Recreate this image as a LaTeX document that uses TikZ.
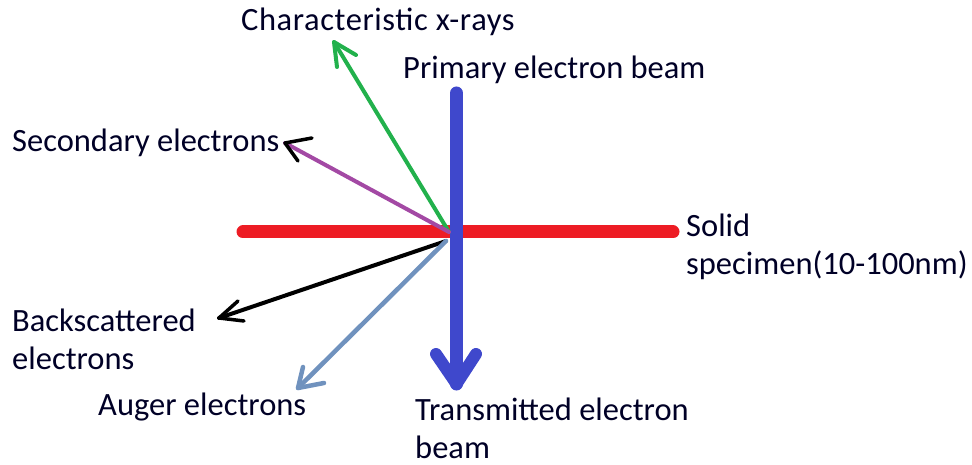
\documentclass[tikz,border=0pt]{standalone}
\usepackage{fontspec}
\setmainfont{Carlito}
\usetikzlibrary{arrows.meta}
\definecolor{specred}{RGB}{237,28,36}
\definecolor{beamblue}{RGB}{63,72,204}
\definecolor{xgreen}{RGB}{34,177,76}
\definecolor{secpurple}{RGB}{163,73,164}
\definecolor{augerblue}{RGB}{112,146,190}
\tikzset{
  lbl/.style={inner sep=0pt, anchor=west, align=left, font=\fontsize{32.5}{38}\selectfont, text=black!85!blue},
  ray/.style={line width=4pt, line cap=round, line join=round},
  head/.style={line cap=round, line join=round}
}
\begin{document}
\begin{tikzpicture}[x=1pt,y=-1pt]
\useasboundingbox (0,0) rectangle (972,465);
% key points
\coordinate (O) at (449,232);
\coordinate (Ob) at (446,241);
% specimen
\coordinate (sl) at (243,232);
\coordinate (sr) at (673,232);
\draw[specred, line width=13pt, line cap=round] (sl) -- (sr);
% primary / transmitted beam
\coordinate (bt) at (456.5,93);
\coordinate (bb) at (456.5,384);
\coordinate (bw1) at (436,354);
\coordinate (bw2) at (476,354);
\draw[beamblue, line width=13pt, line cap=round, line join=round] (bt) -- (bb);
\draw[beamblue, line width=12pt, head] (bw1) -- (bb) -- (bw2);
% characteristic x-rays
\coordinate (gt) at (334,42);
\coordinate (gw1) at (337,67);
\coordinate (gw2) at (356,55);
\draw[xgreen, ray] (O) -- (gt);
\draw[xgreen, line width=4pt, head] (gw1) -- (gt) -- (gw2);
% secondary electrons
\coordinate (pt) at (285,143);
\coordinate (pw1) at (312,138);
\coordinate (pw2) at (298,161);
\draw[secpurple, ray] (O) -- (pt);
\draw[black, line width=3.5pt, head] (pw1) -- (pt) -- (pw2);
% backscattered electrons
\coordinate (kt) at (219,318);
\coordinate (kw1) at (238,301);
\coordinate (kw2) at (244,321);
\draw[black, ray] (Ob) -- (kt);
\draw[black, line width=3.5pt, head] (kw1) -- (kt) -- (kw2);
% Auger electrons
\coordinate (at) at (298,388);
\coordinate (aw1) at (303,367);
\coordinate (aw2) at (324,383);
\draw[augerblue, line width=4.5pt, line cap=round] (Ob) -- (at);
\draw[augerblue, line width=4.5pt, head] (aw1) -- (at) -- (aw2);
% labels
\node[lbl] (tx) at (241,22) {\addfontfeature{LetterSpace=1.8}Characteristic x-rays};
\node[lbl] (tp) at (403,70) {Primary electron beam};
\node[lbl] (ts) at (12,143) {Secondary electrons};
\node[lbl] (tsp) at (686,247) {Solid\\specimen(10-100nm)};
\node[lbl] (tb) at (12,339) {Backscattered\\electrons};
\node[lbl] (ta) at (98,407) {Auger electrons};
\node[lbl] (tt) at (415,428) {Transmitted electron\\beam};
\end{tikzpicture}
\end{document}
